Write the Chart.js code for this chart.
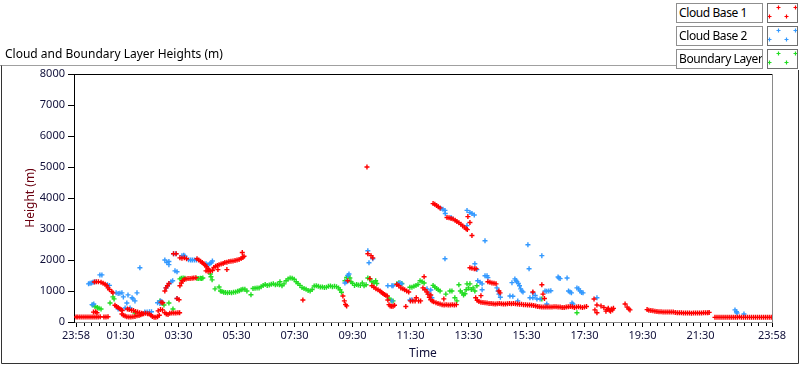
<!DOCTYPE html>
<html lang="en">
<head>
    <meta charset="UTF-8">
    <title>Cloud and Boundary Layer Heights</title>
    <script src="https://cdn.jsdelivr.net/npm/chart.js"></script>
    <style>
        body {
            margin: 0;
            background: #fff;
            font-family: 'Noto Sans', sans-serif;
        }
        #wrap {
            position: relative;
            width: 800px;
            height: 365px;
        }
        #heightChart {
            position: absolute;
            left: 0;
            top: 0;
        }
        .caption {
            position: absolute;
            left: 5px;
            top: 45px;
            font-size: 12px;
            color: #000;
            white-space: nowrap;
        }
        .legend-label {
            position: absolute;
            left: 676px;
            width: 87px;
            height: 20px;
            box-sizing: border-box;
            border: 1px solid #8f8f8f;
            background: #fff;
            font-size: 12px;
            letter-spacing: -0.4px;
            line-height: 18px;
            padding-left: 2px;
            white-space: nowrap;
            overflow: hidden;
        }
        .legend-swatch {
            position: absolute;
            left: 767px;
            width: 31px;
            height: 20px;
            box-sizing: border-box;
            border: 1px solid #6f6f6f;
            background: transparent;
        }
    </style>
</head>
<body>
<div id="wrap">
    <canvas id="heightChart" width="800" height="365"></canvas>
    <div class="caption">Cloud and Boundary Layer Heights (m)</div>
    <div id="legend"></div>
</div>

<script>
    // series: [hour of day, height in m]
    const cloudBase1 = [
        [-0.03,160],[0.03,160],[0.1,160],[0.17,160],[0.24,160],[0.31,160],[0.38,160],[0.45,160],[0.52,160],[0.59,160],[0.66,160],[0.73,160],[0.8,170],
        [0.57,320],[0.64,330],[0.69,300],[0.93,160],[1.0,160],[1.07,170],
        [0.6,1290],[0.67,1300],[0.74,1300],[0.83,1280],[0.9,1250],[0.97,1220],[1.03,1170],[1.07,1100],[1.12,1050],[1.2,980],[1.24,940],
        [1.31,540],[1.36,500],[1.42,470],[1.47,430],[1.52,400],[1.56,370],
        [1.55,260],[1.6,220],[1.66,190],[1.72,170],[1.79,160],[1.86,160],[1.93,170],[2.0,180],[2.07,200],[2.14,210],[2.2,230],[2.25,260],
        [1.74,420],[1.8,400],[1.88,380],[1.95,370],[2.02,340],[2.09,320],[2.16,300],[2.23,280],[2.3,270],[2.37,280],[2.44,270],[2.5,260],
        [2.55,220],[2.6,180],[2.66,150],[2.72,150],[2.78,170],[2.84,220],[2.8,360],
        [2.88,400],[2.95,390],[3.03,300],[3.08,260],[3.14,240],[3.2,280],[3.27,290],[3.34,290],[3.41,290],[3.48,300],[3.54,300],
        [2.9,640],[2.96,620],[3.03,1000],[3.07,1100],[3.12,1170],[3.17,1240],[3.45,760],[3.52,720],
        [3.33,2200],[3.42,2200],[3.55,2070],[3.62,2060],[3.7,2070],[3.78,2040],
        [4.14,2040],[4.2,2000],[4.26,1960],[4.32,1920],[4.37,1880],[4.42,1830],[4.47,1780],[4.52,1720],[4.56,1680],
        [4.45,1650],[4.52,1640],[4.6,1640],[4.67,1660],
        [4.72,1760],[4.78,1800],[4.84,1820],[4.9,1850],[4.97,1870],[5.04,1890],[5.1,1920],[5.17,1930],[5.24,1950],[5.31,1960],
        [5.38,1970],[5.45,1980],[5.52,2000],[5.59,2020],[5.66,2050],[5.72,2080],[5.76,2120],[5.7,2240],[4.86,1690],[5.17,1690],
        [3.55,1170],[3.6,1260],[3.64,1330],[3.7,1370],[3.76,1390],[3.83,1400],[3.9,1400],[3.97,1410],[4.03,1420],[4.1,1430],
        [7.79,710],[9.17,840],[9.22,680],[9.26,560],[9.3,520],[9.34,1330],
        [10.0,5000],[10.03,2200],[10.14,2140],[10.2,2070],[10.1,1400],
        [10.17,1170],[10.24,1120],[10.31,1070],[10.38,1040],[10.45,1000],[10.5,960],[10.55,920],[10.6,890],[10.65,860],[10.7,840],
        [10.72,710],[10.76,560],[10.8,520],[10.85,510],[10.9,510],[10.95,540],
        [11.03,1210],[11.1,1170],[11.17,1100],[11.24,1070],[11.3,1040],[11.37,1000],[11.44,970],[11.34,500],
        [11.5,680],[11.58,680],[11.66,680],[11.7,780],[11.78,680],[11.85,680],
        [11.97,1460],[11.93,1100],[12.0,1040],[12.07,970],[12.1,900],[12.15,800],[12.2,720],[12.25,680],[12.3,650],[12.2,870],
        [12.38,620],[12.45,600],[12.52,580],[12.59,560],[12.66,550],[12.73,560],[12.8,550],[12.87,550],[12.94,560],[13.01,550],[13.08,560],[12.65,745],
        [12.28,3820],[12.34,3800],[12.4,3760],[12.46,3720],[12.52,3680],
        [12.76,3370],[12.83,3360],[12.9,3340],[12.97,3320],[13.04,3280],[13.1,3240],[13.17,3200],[13.24,3150],[13.3,3100],[13.36,3060],
        [13.42,3010],[13.46,2980],[13.48,3400],[13.55,3210],[13.62,2790],
        [13.55,1750],[13.62,1730],[13.7,1720],[13.76,1720],
        [14.17,1300],[14.24,1280],[14.31,1260],[14.38,1250],[14.45,1230],[14.59,940],
        [13.75,780],[13.8,700],[13.86,660],[13.93,850],[13.93,640],[14.0,630],[14.07,620],[14.14,610],[14.21,600],[14.28,600],
        [14.35,590],[14.42,580],[14.49,590],[14.56,600],[14.63,590],[14.7,580],[14.77,580],[14.84,590],[14.91,600],[14.98,590],
        [15.05,600],[15.12,590],[15.19,580],[15.26,570],[15.33,570],[15.4,560],[15.47,560],[15.54,550],[15.61,550],[15.68,540],
        [15.75,530],[15.82,520],[15.89,500],[15.96,490],[16.03,480],[16.1,480],[16.17,480],[16.24,480],[16.31,480],[16.38,480],
        [16.45,490],[16.52,490],[16.59,480],[16.66,480],[16.73,470],[16.8,470],[16.87,480],[16.94,490],[17.01,500],[17.08,490],
        [17.15,470],[17.22,480],[17.29,490],[17.36,480],[17.43,470],[17.5,480],[17.57,500],
        [14.55,1000],[15.72,970],[16.03,1200],[16.07,900],[16.12,760],
        [17.83,740],[17.93,550],[17.86,390],[17.93,300],[18.07,520],[18.17,470],[18.24,350],[18.28,400],[18.32,440],[18.36,380],
        [18.4,350],[18.43,420],[18.47,390],[18.5,440],
        [18.9,580],[18.97,480],[19.03,420],[19.07,390],
        [19.66,400],[19.72,380],[19.79,370],[19.86,360],[19.93,350],[20.0,340],[20.07,330],[20.14,330],[20.21,320],[20.28,320],
        [20.35,320],[20.42,320],[20.49,320],[20.56,320],[20.63,310],[20.7,300],[20.77,300],[20.84,300],[20.91,290],[20.98,290],
        [21.05,290],[21.12,290],[21.19,280],[21.26,290],[21.33,290],[21.4,290],[21.47,290],[21.54,290],[21.61,300],[21.68,300],
        [21.75,300],[21.8,310],
        [22.0,150],[22.07,150],[22.14,150],[22.21,150],[22.28,150],[22.35,150],[22.42,150],[22.49,150],[22.56,150],[22.63,150],
        [22.7,150],[22.77,150],[22.84,160],[22.91,150],[22.98,150],[23.05,150],[23.12,150],[23.19,150],[23.26,150],[23.33,150],
        [23.4,150],[23.47,150],[23.54,150],[23.61,150],[23.68,150],[23.75,150],[23.82,150],[23.89,150],[23.96,150]
    ];

    const cloudBase2 = [
        [0.4,1230],[0.45,1250],[0.5,1260],[0.55,1280],[0.62,1300],[0.79,1520],[0.86,1520],[0.52,560],[0.58,580],
        [1.05,1200],[1.12,1180],[1.35,940],[1.42,920],[1.48,930],[1.55,940],[1.42,420],
        [1.6,810],[1.76,875],[1.9,780],[1.93,745],[2.07,940],[1.72,615],[1.66,450],[1.83,450],[2.0,680],[2.17,1750],
        [2.34,320],[2.42,320],[2.5,330],[2.57,330],[2.78,620],[2.86,600],[2.93,650],[2.88,680],
        [3.03,2000],[3.1,1920],[3.17,1950],[3.17,1850],[3.38,1650],[3.33,2200],[3.41,2200],[3.45,1620],[3.45,760],
        [3.07,1100],[3.12,1160],[3.18,1230],[3.24,1300],[3.3,1330],
        [3.62,2140],[3.68,2150],[3.72,2130],[3.85,2010],[3.92,2000],[3.98,2000],[4.05,2000],[4.12,2000],
        [4.45,1880],[4.52,1850],[4.58,1880],[4.63,1910],[4.67,1970],
        [9.24,1260],[9.3,1300],[9.34,1500],[9.38,1550],[10.03,2300],[10.07,1910],[10.2,2040],
        [10.72,1170],[10.86,1170],[10.9,1170],[10.86,680],[11.14,1270],[11.07,1230],[11.2,1230],[11.48,710],[11.55,720],
        [12.07,1070],[12.15,900],[12.24,780],[12.2,1030],
        [12.55,3660],[12.62,3640],[12.69,3600],[12.7,3500],[12.9,3370],[12.69,2040],
        [13.45,3600],[13.55,3530],[13.62,3500],[13.7,3450],[13.45,3110],[13.72,1880],[13.79,1690],[14.07,2620],
        [14.07,1490],[14.14,1490],[14.17,1430],[13.82,1330],[13.9,1280],[13.97,1230],[13.97,1040],
        [14.48,1100],[14.52,1000],[14.55,900],[14.6,800],
        [15.0,1270],[15.1,1390],[15.14,1340],[15.17,1300],[15.22,1240],[15.26,1170],[15.3,1070],[15.34,1000],[15.38,970],
        [14.93,840],[15.03,830],[15.2,680],
        [15.55,2490],[15.59,1720],[15.62,780],[15.72,780],[15.86,740],[15.97,740],[16.03,2140],
        [15.72,940],[15.8,860],[16.14,1000],[16.2,990],[16.27,1000],[16.34,1010],[16.2,580],
        [16.59,1450],[16.62,1420],[16.66,1400],[16.9,1420],
        [16.95,1000],[17.0,970],[17.05,940],[17.07,615],[17.1,580],[17.24,1100],[17.3,1070],[17.35,1000],[17.4,950],[17.45,940],
        [17.93,780],[22.69,390],[22.74,330],[22.76,290],[23.0,260]
    ];

    const boundaryLayer = [
        [0.55,550],[0.62,500],[0.7,470],[0.76,440],[0.83,420],[1.14,615],[1.24,810],[1.28,745],[2.0,290],
        [2.86,680],[2.93,620],[3.0,550],[3.17,615],[3.31,420],
        [3.55,1390],[3.6,1410],[3.66,1420],[3.72,1410],[4.14,1400],[4.2,1400],[4.26,1410],[4.3,1400],[4.34,1420],
        [4.6,1550],[4.62,1460],[4.66,1360],
        [4.76,1070],[4.9,1130],[4.95,1000],[5.0,980],[5.06,960],[5.12,950],[5.19,940],[5.26,950],[5.33,940],[5.4,960],
        [5.47,970],[5.54,990],[5.6,1010],[5.66,1040],[5.72,1060],[5.79,1060],[5.86,1000],[6.0,880],[6.07,1080],[6.14,1090],
        [6.21,1100],[6.28,1100],[6.35,1140],[6.42,1180],[6.49,1210],[6.56,1180],[6.63,1190],[6.7,1220],[6.77,1230],[6.84,1200],
        [6.91,1220],[6.98,1200],[7.0,1300],[7.07,1170],[7.14,1230],[7.21,1330],[7.28,1390],[7.35,1420],[7.42,1410],[7.49,1380],
        [7.56,1300],[7.62,1240],[7.69,1180],[7.76,1110],[7.83,1080],[7.9,1060],[7.97,1020],[8.04,1000],[8.11,1050],[8.18,1160],
        [8.25,1170],[8.32,1150],[8.39,1130],[8.46,1130],[8.53,1110],[8.6,1120],[8.67,1150],[8.74,1160],[8.81,1140],[8.88,1150],
        [8.95,1140],[9.02,1100],[9.07,1040],[9.12,960],
        [9.24,1330],[9.3,1440],[9.35,1490],[9.41,1420],[9.45,1300],[9.5,1250],[9.57,1180],[9.64,1210],[9.7,1190],[9.77,1180],
        [9.84,1260],[9.9,1170],[9.97,1200],[10.03,1420],[10.1,1390],[10.17,1300],[10.24,1260],[10.3,1330],[10.34,1240],
        [10.76,770],[10.83,700],[10.9,680],[11.03,1230],[11.1,1270],[11.2,1240],
        [11.48,1120],[11.55,1120],[11.62,1150],[11.69,1180],[11.76,1210],[11.83,1330],[11.9,1300],[11.97,1260],
        [12.28,1180],[12.34,1130],[12.4,1080],[12.46,1040],[12.52,1000],[12.72,900],[12.86,1000],[12.93,1000],[13.03,780],[13.1,680],
        [13.17,1200],[13.22,1000],[13.28,940],[13.33,870],[13.38,910],[13.42,1040],[13.45,1230],[13.5,1100],[13.55,1230],[13.6,1050],
        [13.66,1100],[13.72,1000],[13.79,1170],[16.03,745],[17.24,300]
    ];

    const seriesNames = ['Cloud Base 1', 'Cloud Base 2', 'Boundary Layer'];
    const seriesColors = ['#ff0000', '#3399ff', '#22dd22'];

    // x axis in hours of day, the record runs 23:58 -> 23:58
    const timeTicks = [-2 / 60, 1.5, 3.5, 5.5, 7.5, 9.5, 11.5, 13.5, 15.5, 17.5, 19.5, 21.5, 24 - 2 / 60];
    const timeTickLabels = ['23:58', '01:30', '03:30', '05:30', '07:30', '09:30', '11:30', '13:30', '15:30', '17:30', '19:30', '21:30', '23:58'];
    const heightTicks = [0, 1000, 2000, 3000, 4000, 5000, 6000, 7000, 8000];

    // legend boxes
    const legendBox = document.getElementById('legend');
    seriesNames.forEach((name, i) => {
        const label = document.createElement('div');
        label.className = 'legend-label';
        label.style.top = (3 + i * 23) + 'px';
        label.textContent = name;
        legendBox.appendChild(label);
        const sw = document.createElement('div');
        sw.className = 'legend-swatch';
        sw.style.top = (3 + i * 23) + 'px';
        legendBox.appendChild(sw);
    });

    const toPoints = arr => arr.map(p => ({ x: p[0], y: p[1] }));

    // frames, minor ticks and legend crosses
    const framePlugin = {
        id: 'frame',
        afterDraw(chart) {
            const ctx = chart.ctx;
            const area = chart.chartArea;
            ctx.save();
            // outer panel
            ctx.lineWidth = 1;
            ctx.strokeStyle = '#a0a0a0';
            ctx.beginPath();
            ctx.moveTo(0, 65.5);
            ctx.lineTo(676, 65.5);
            ctx.stroke();
            ctx.strokeStyle = '#333';
            ctx.beginPath();
            ctx.moveTo(1.5, 65.5);
            ctx.lineTo(1.5, 363.5);
            ctx.lineTo(798.5, 363.5);
            ctx.lineTo(798.5, 70);
            ctx.stroke();
            // plot box top / right
            ctx.strokeStyle = '#000';
            ctx.beginPath();
            ctx.moveTo(area.left, area.top + 0.5);
            ctx.lineTo(area.right, area.top + 0.5);
            ctx.stroke();
            ctx.strokeStyle = '#8a8a8a';
            ctx.beginPath();
            ctx.moveTo(area.right + 0.5, area.top);
            ctx.lineTo(area.right + 0.5, area.bottom + 1);
            ctx.stroke();
            // minor time ticks every 15 min
            const xs = chart.scales.x;
            ctx.strokeStyle = '#000';
            ctx.beginPath();
            for (let q = 1; q < 96; q++) {
                const v = q / 4;
                if (timeTicks.some(t => Math.abs(t - v) < 0.01)) continue;
                const px = Math.round(xs.getPixelForValue(v)) + 0.5;
                ctx.moveTo(px, area.bottom + 1);
                ctx.lineTo(px, area.bottom + 4);
            }
            ctx.stroke();
            // crosses in the legend swatches
            const offs = [[11, 4], [28, 4], [2, 13], [19, 13]];
            ctx.lineWidth = 1.2;
            seriesColors.forEach((c, i) => {
                const bx = 767, by = 3 + i * 23;
                ctx.strokeStyle = c;
                ctx.beginPath();
                offs.forEach(o => {
                    const cx = bx + o[0] + 0.5, cy = by + o[1] + 0.5;
                    ctx.moveTo(cx - 2, cy);
                    ctx.lineTo(cx + 2, cy);
                    ctx.moveTo(cx, cy - 2);
                    ctx.lineTo(cx, cy + 2);
                });
                ctx.stroke();
            });
            ctx.restore();
        }
    };

    const dsStyle = (name, data, color) => ({
        label: name,
        data: toPoints(data),
        pointStyle: 'cross',
        pointRadius: 2.5,
        pointHoverRadius: 2.5,
        pointBorderWidth: 1.4,
        borderColor: color,
        backgroundColor: color,
        showLine: false
    });

    const ctx = document.getElementById('heightChart').getContext('2d');
    const heightChart = new Chart(ctx, {
        type: 'scatter',
        data: {
            datasets: [
                dsStyle(seriesNames[0], cloudBase1, seriesColors[0]),
                dsStyle(seriesNames[1], cloudBase2, seriesColors[1]),
                dsStyle(seriesNames[2], boundaryLayer, seriesColors[2])
            ]
        },
        options: {
            responsive: false,
            animation: false,
            layout: { padding: { left: 0, top: 74, right: 28, bottom: 0 } },
            plugins: {
                legend: { display: false },
                tooltip: { enabled: false }
            },
            scales: {
                x: {
                    type: 'linear',
                    min: -2 / 60 - 2 / 29,
                    max: 24 - 2 / 60,
                    afterBuildTicks: s => { s.ticks = timeTicks.map(v => ({ value: v })); },
                    afterFit: s => { s.height = 43; },
                    ticks: {
                        autoSkip: false,
                        maxRotation: 0,
                        padding: 2,
                        color: '#10103a',
                        font: { family: 'Noto Sans', size: 11 },
                        callback: (v, i) => timeTickLabels[i]
                    },
                    grid: { drawOnChartArea: false, tickLength: 5, color: '#000', tickColor: '#000' },
                    border: { color: '#8a8a8a', width: 1 },
                    title: {
                        display: true,
                        text: 'Time',
                        color: '#10103a',
                        font: { family: 'Noto Sans', size: 12 },
                        padding: { top: 0, bottom: 4 }
                    }
                },
                y: {
                    min: 0,
                    max: 8000,
                    afterBuildTicks: s => { s.ticks = heightTicks.map(v => ({ value: v })); },
                    afterFit: s => { s.width = 74; },
                    ticks: {
                        padding: 3,
                        color: '#10103a',
                        font: { family: 'Noto Sans', size: 11 },
                        callback: v => String(v)
                    },
                    grid: { drawOnChartArea: false, tickLength: 6, color: '#000', tickColor: '#000' },
                    border: { color: '#000', width: 1 },
                    title: {
                        display: true,
                        text: 'Height (m)',
                        color: '#6a0010',
                        font: { family: 'Noto Sans', size: 12 },
                        padding: { top: 23, bottom: 0 }
                    }
                }
            }
        },
        plugins: [framePlugin]
    });
</script>
</body>
</html>
